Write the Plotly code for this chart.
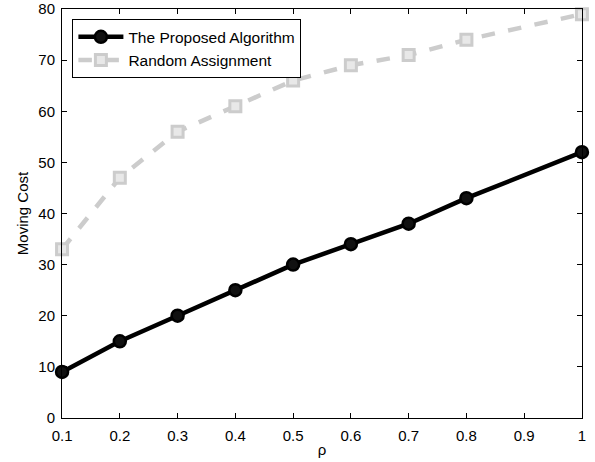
import plotly.graph_objects as go

rho = [0.1, 0.2, 0.3, 0.4, 0.5, 0.6, 0.7, 0.8, 1.0]
proposed = [9, 15, 20, 25, 30, 34, 38, 43, 52]
random_assign = [33, 47, 56, 61, 66, 69, 71, 74, 79]
x_ticks = [0.1, 0.2, 0.3, 0.4, 0.5, 0.6, 0.7, 0.8, 0.9, 1.0]
x_tick_labels = ["0.1", "0.2", "0.3", "0.4", "0.5", "0.6", "0.7", "0.8", "0.9", "1"]
y_ticks = [0, 10, 20, 30, 40, 50, 60, 70, 80]
y_tick_labels = ["0", "10", "20", "30", "40", "50", "60", "70", "80"]

FONT = "Liberation Sans, Arial, sans-serif"

fig = go.Figure()
fig.add_trace(go.Scatter(
    x=rho, y=proposed, mode="lines+markers", name="The Proposed Algorithm",
    line=dict(color="black", width=4.5),
    marker=dict(symbol="circle", size=12, color="#111111", line=dict(color="black", width=2.5)),
    cliponaxis=False,
))
fig.add_trace(go.Scatter(
    x=rho, y=random_assign, mode="lines+markers", name="Random Assignment",
    line=dict(color="#cccccc", width=4.5, dash="dash"),
    marker=dict(symbol="square", size=11, color="#e8e8e8", line=dict(color="#cccccc", width=3)),
    cliponaxis=False,
))

axis_common = dict(
    showgrid=False, zeroline=False, showline=True, linecolor="black", linewidth=1,
    mirror="ticks", ticks="inside", ticklen=5, tickcolor="black", automargin=False,
    tickfont=dict(family=FONT, size=15, color="black"), ticklabeloverflow="allow",
)
fig.update_xaxes(range=[0.0999, 1.0001], tickvals=x_ticks, ticktext=x_tick_labels,
                 ticklabelstandoff=4,
                 title=dict(text="ρ", font=dict(family=FONT, size=15, color="black"), standoff=1),
                 **axis_common)
fig.update_yaxes(range=[-0.01, 80.01], tickvals=y_ticks, ticktext=y_tick_labels,
                 ticklabelstandoff=3,
                 title=dict(text="Moving Cost", font=dict(family=FONT, size=15, color="black"), standoff=6),
                 **axis_common)

fig.update_layout(
    width=595, height=462,
    margin=dict(l=62, r=13, t=9, b=44),
    plot_bgcolor="white", paper_bgcolor="white",
    font=dict(family=FONT, size=15, color="black"),
    legend=dict(x=0.02, y=0.975, xanchor="left", yanchor="top",
                bordercolor="black", borderwidth=1, bgcolor="white",
                font=dict(size=15.5), tracegroupgap=0, itemwidth=45),
    showlegend=True,
)

fig.write_html("out.html", config={"displayModeBar": False},
               post_script="document.body.style.margin='0';document.body.style.padding='0';document.body.style.overflow='hidden';")
